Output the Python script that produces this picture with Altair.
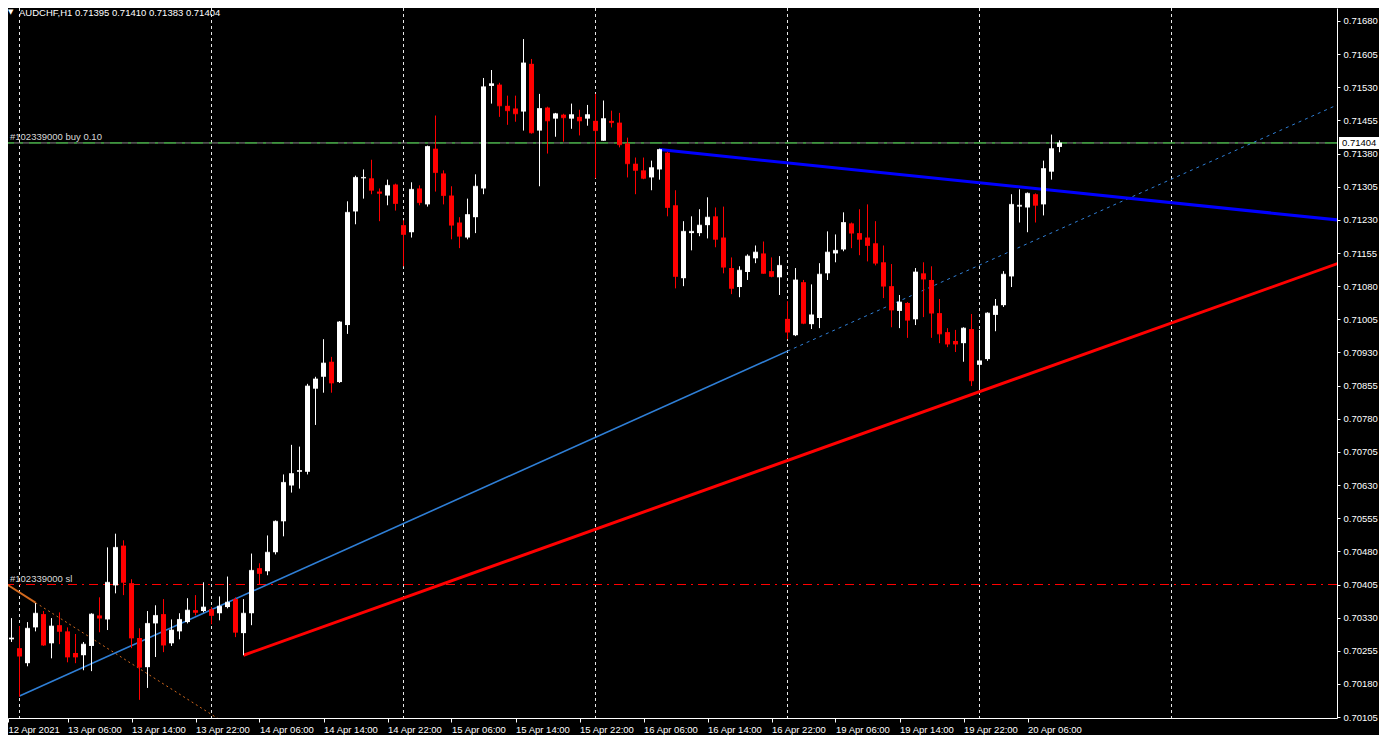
import altair as alt
import pandas as pd

# ---------------- data (AUDCHF H1) ----------------
opens = [0.70272, 0.70281, 0.70261, 0.70227, 0.70308, 0.70338, 0.70272, 0.70313, 0.70299, 0.70250,
         0.70245, 0.70266, 0.70335, 0.70326, 0.70403, 0.70493, 0.70408, 0.70284, 0.70218, 0.70317,
         0.70338, 0.70272, 0.70299, 0.70320, 0.70347, 0.70345, 0.70349, 0.70340, 0.70354, 0.70372,
         0.70295, 0.70340, 0.70442, 0.70435, 0.70478, 0.70548, 0.70629, 0.70660, 0.70660, 0.70848,
         0.70875, 0.70909, 0.70863, 0.70992, 0.71249, 0.71324, 0.71324, 0.71294, 0.71285, 0.71310,
         0.71218, 0.71202, 0.71301, 0.71265, 0.71391, 0.71335, 0.71285, 0.71224, 0.71190, 0.71236,
         0.71301, 0.71533, 0.71536, 0.71488, 0.71482, 0.71475, 0.71583, 0.71432, 0.71484, 0.71459,
         0.71468, 0.71459, 0.71463, 0.71459, 0.71454, 0.71409, 0.71454, 0.71450, 0.71403, 0.71357,
         0.71342, 0.71326, 0.71344, 0.71382, 0.71263, 0.71098, 0.71200, 0.71200, 0.71218, 0.71238,
         0.71190, 0.71121, 0.71078, 0.71112, 0.71143, 0.71154, 0.71114, 0.71100, 0.71006, 0.70969,
         0.71089, 0.70994, 0.71008, 0.71109, 0.71154, 0.71163, 0.71222, 0.71200, 0.71190, 0.71177,
         0.71134, 0.71080, 0.71024, 0.71042, 0.71005, 0.71109, 0.71094, 0.71019, 0.70976, 0.70956,
         0.70951, 0.70983, 0.70902, 0.70915, 0.71015, 0.71037, 0.71102, 0.71260, 0.71258, 0.71288,
         0.71265, 0.71339, 0.71395]
highs = [0.70315, 0.70329, 0.70311, 0.70320, 0.70363, 0.70345, 0.70329, 0.70342, 0.70308, 0.70293,
         0.70275, 0.70340, 0.70376, 0.70489, 0.70520, 0.70505, 0.70417, 0.70306, 0.70345, 0.70358,
         0.70372, 0.70326, 0.70340, 0.70374, 0.70381, 0.70410, 0.70354, 0.70378, 0.70423, 0.70376,
         0.70372, 0.70475, 0.70453, 0.70516, 0.70550, 0.70654, 0.70721, 0.70717, 0.70859, 0.70875,
         0.70960, 0.70920, 0.71001, 0.71272, 0.71330, 0.71344, 0.71366, 0.71301, 0.71321, 0.71312,
         0.71229, 0.71315, 0.71308, 0.71398, 0.71466, 0.71342, 0.71306, 0.71236, 0.71278, 0.71333,
         0.71551, 0.71569, 0.71540, 0.71511, 0.71511, 0.71639, 0.71594, 0.71515, 0.71486, 0.71472,
         0.71470, 0.71493, 0.71479, 0.71490, 0.71515, 0.71500, 0.71477, 0.71472, 0.71416, 0.71371,
         0.71371, 0.71364, 0.71391, 0.71384, 0.71297, 0.71227, 0.71238, 0.71254, 0.71281, 0.71258,
         0.71260, 0.71145, 0.71125, 0.71152, 0.71172, 0.71181, 0.71145, 0.71148, 0.71046, 0.71121,
         0.71094, 0.71084, 0.71132, 0.71204, 0.71197, 0.71247, 0.71224, 0.71254, 0.71265, 0.71227,
         0.71172, 0.71130, 0.71060, 0.71044, 0.71121, 0.71134, 0.71125, 0.71051, 0.70985, 0.70981,
         0.70987, 0.71017, 0.70981, 0.71021, 0.71051, 0.71114, 0.71288, 0.71299, 0.71292, 0.71290,
         0.71364, 0.71423, 0.71410]
lows = [0.70263, 0.70275, 0.70151, 0.70220, 0.70299, 0.70266, 0.70238, 0.70270, 0.70229, 0.70227,
        0.70211, 0.70209, 0.70297, 0.70302, 0.70385, 0.70381, 0.70261, 0.70144, 0.70171, 0.70241,
        0.70252, 0.70266, 0.70281, 0.70317, 0.70335, 0.70342, 0.70315, 0.70324, 0.70351, 0.70286,
        0.70245, 0.70313, 0.70405, 0.70426, 0.70473, 0.70514, 0.70613, 0.70622, 0.70654, 0.70766,
        0.70839, 0.70839, 0.70861, 0.70972, 0.71220, 0.71278, 0.71288, 0.71227, 0.71263, 0.71251,
        0.71125, 0.71190, 0.71263, 0.71260, 0.71294, 0.71265, 0.71186, 0.71166, 0.71186, 0.71200,
        0.71288, 0.71493, 0.71463, 0.71445, 0.71452, 0.71432, 0.71425, 0.71306, 0.71380, 0.71418,
        0.71407, 0.71436, 0.71421, 0.71443, 0.71324, 0.71409, 0.71439, 0.71394, 0.71326, 0.71288,
        0.71322, 0.71297, 0.71321, 0.71238, 0.71075, 0.71080, 0.71161, 0.71193, 0.71188, 0.71168,
        0.71109, 0.71062, 0.71055, 0.71094, 0.71132, 0.71108, 0.71100, 0.71060, 0.70960, 0.70967,
        0.70994, 0.70983, 0.70985, 0.71094, 0.71134, 0.71159, 0.71166, 0.71150, 0.71136, 0.71127,
        0.71053, 0.70987, 0.70985, 0.70963, 0.70992, 0.71010, 0.70963, 0.70951, 0.70942, 0.70931,
        0.70909, 0.70854, 0.70845, 0.70911, 0.70978, 0.71033, 0.71078, 0.71224, 0.71202, 0.71224,
        0.71240, 0.71321, 0.71383]
closes = [0.70290, 0.70284, 0.70243, 0.70306, 0.70340, 0.70268, 0.70311, 0.70299, 0.70241, 0.70241,
          0.70270, 0.70338, 0.70329, 0.70410, 0.70489, 0.70410, 0.70284, 0.70218, 0.70317, 0.70335,
          0.70268, 0.70302, 0.70326, 0.70347, 0.70342, 0.70354, 0.70335, 0.70356, 0.70365, 0.70297,
          0.70340, 0.70437, 0.70430, 0.70478, 0.70548, 0.70636, 0.70656, 0.70663, 0.70854, 0.70870,
          0.70906, 0.70861, 0.70999, 0.71247, 0.71326, 0.71326, 0.71297, 0.71290, 0.71308, 0.71267,
          0.71197, 0.71299, 0.71269, 0.71396, 0.71337, 0.71285, 0.71218, 0.71193, 0.71242, 0.71306,
          0.71531, 0.71538, 0.71488, 0.71477, 0.71470, 0.71585, 0.71427, 0.71482, 0.71454, 0.71470,
          0.71461, 0.71468, 0.71454, 0.71468, 0.71432, 0.71459, 0.71450, 0.71400, 0.71357, 0.71342,
          0.71324, 0.71348, 0.71389, 0.71258, 0.71102, 0.71204, 0.71204, 0.71218, 0.71236, 0.71186,
          0.71123, 0.71075, 0.71116, 0.71148, 0.71157, 0.71109, 0.71102, 0.71127, 0.70976, 0.71094,
          0.70996, 0.71015, 0.71107, 0.71157, 0.71161, 0.71224, 0.71200, 0.71186, 0.71172, 0.71132,
          0.71080, 0.71026, 0.71044, 0.71003, 0.71112, 0.71096, 0.71019, 0.70972, 0.70949, 0.70949,
          0.70985, 0.70866, 0.70911, 0.71019, 0.71035, 0.71107, 0.71265, 0.71263, 0.71290, 0.71263,
          0.71346, 0.71391, 0.71404]

# hourly bar number (0 = 12 Apr 22:00, weekend gap collapsed as on the terminal)
bar_no = list(range(len(opens)))

time_labels = ["12 Apr 2021", "13 Apr 06:00", "13 Apr 14:00", "13 Apr 22:00", "14 Apr 06:00",
               "14 Apr 14:00", "14 Apr 22:00", "15 Apr 06:00", "15 Apr 14:00", "15 Apr 22:00",
               "16 Apr 06:00", "16 Apr 14:00", "16 Apr 22:00", "19 Apr 06:00", "19 Apr 14:00",
               "19 Apr 22:00", "20 Apr 06:00"]
label_bars = [0.5625, 8, 16, 24, 32, 40, 48, 56, 64, 72, 80, 88, 96, 104, 112, 120, 128]
midnight_bars = [2, 26, 50, 74, 98, 122, 146]
price_ticks = [0.71680, 0.71605, 0.71530, 0.71455, 0.71380, 0.71305, 0.71230, 0.71155,
               0.71080, 0.71005, 0.70930, 0.70855, 0.70780, 0.70705, 0.70630, 0.70555,
               0.70480, 0.70405, 0.70330, 0.70255, 0.70180, 0.70105]

buy_price = 0.71404
sl_price = 0.70405
header = "AUDCHF,H1  0.71395 0.71410 0.71383 0.71404"

# trend line anchors (bar number, price)
lt_blue_bars = [2, 98];            lt_blue_prices = [0.70153, 0.70933]
lt_blue_ray_bars = [98, 167.2];    lt_blue_ray_prices = [0.70933, 0.71494]
red_bars = [30, 167.2];            red_prices = [0.70245, 0.71134]
blue_bars = [82, 167.2];           blue_prices = [0.71389, 0.71229]
orange_bars = [0, 4];              orange_prices = [0.70410, 0.70364]
orange_ray_bars = [4, 28];         orange_ray_prices = [0.70364, 0.70088]

# ---------------- chart ----------------
FONT = "Liberation Sans"
W, H = 1329, 710
xscale = alt.Scale(domain=[0.5625, 166.6875], nice=False, zero=False, padding=0)
yscale = alt.Scale(domain=[0.70103, 0.717093], nice=False, zero=False, padding=0)

label_expr = "[" + ",".join(f"'{t}'" for t in time_labels) + "][round(datum.value/8)]"
xaxis = alt.Axis(values=label_bars, labelExpr=label_expr, orient="bottom", grid=False, title=None,
                 labelAlign="left", labelBaseline="top", labelPadding=2, tickSize=4,
                 labelFont=FONT, labelFontSize=9.5, labelColor="#ffffff",
                 domainColor="#ffffff", tickColor="#ffffff", labelOverlap=False,
                 labelFlush=False, labelBound=False)
yaxis = alt.Axis(values=price_ticks, format=".5f", orient="right", grid=False, title=None,
                 tickSize=3, labelPadding=3, labelFont=FONT, labelFontSize=9.5,
                 labelColor="#ffffff", domainColor="#ffffff", tickColor="#ffffff",
                 labelOverlap=False, labelFlush=False, labelBound=False)

df = pd.DataFrame({"bar": bar_no, "open": opens, "high": highs, "low": lows, "close": closes})
df["dir"] = ["up" if c >= o else "down" for o, c in zip(opens, closes)]
color = alt.Color("dir:N", scale=alt.Scale(domain=["up", "down"], range=["#ffffff", "#ff0000"]), legend=None)


def X(f="bar"):
    return alt.X(f"{f}:Q", scale=xscale, axis=xaxis, title=None)


def Y(f):
    return alt.Y(f"{f}:Q", scale=yscale, axis=yaxis, title=None)


grid = alt.Chart(pd.DataFrame({"bar": midnight_bars})).mark_rule(
    color="#e8e8e8", strokeWidth=1, strokeDash=[3, 3], clip=True).encode(x=X())

lv = pd.DataFrame({"price": [buy_price]})
buy_gray = alt.Chart(lv).mark_rule(color="#8a8a8a", strokeWidth=1).encode(y=Y("price"))
buy_green = alt.Chart(lv).mark_rule(color="#32cd32", strokeWidth=1, strokeDash=[12, 6, 3, 6]).encode(y=Y("price"))
sl = alt.Chart(pd.DataFrame({"price": [sl_price]})).mark_rule(
    color="#ff0000", strokeWidth=1, strokeDash=[9, 5, 2, 5]).encode(y=Y("price"))


def seg(bars, prices, col, width, dash=None):
    d = pd.DataFrame({"bar": bars, "price": prices})
    kw = dict(color=col, strokeWidth=width, clip=True)
    if dash:
        kw["strokeDash"] = dash
    return alt.Chart(d).mark_line(**kw).encode(x=X(), y=Y("price"))


lines = [
    seg(orange_ray_bars, orange_ray_prices, "#d2691e", 1, [2, 3]),
    seg(orange_bars, orange_prices, "#d2691e", 2),
    seg(lt_blue_ray_bars, lt_blue_ray_prices, "#2f7fd6", 1, [3, 4]),
    seg(lt_blue_bars, lt_blue_prices, "#2f7fd6", 1.6),
    seg(red_bars, red_prices, "#ff0000", 3),
    seg(blue_bars, blue_prices, "#0000ff", 3),
]

wicks = alt.Chart(df).mark_rule(strokeWidth=1).encode(x=X(), y=Y("low"), y2="high:Q", color=color)
bodies = alt.Chart(df).mark_bar(size=5).encode(x=X(), y=Y("open"), y2="close:Q", color=color)
thin = alt.Chart(df).mark_tick(orient="horizontal", size=5, thickness=1).encode(x=X(), y=Y("close"), color=color)

txt = dict(font=FONT, fontSize=9.5, align="left", baseline="middle")
head_tri = alt.Chart(pd.DataFrame({"t": ["\u25bc"]})).mark_text(color="#ffffff", font="DejaVu Sans", fontSize=7,
                                                              align="left", baseline="middle").encode(
    text="t:N", x=alt.value(0), y=alt.value(4))
head = alt.Chart(pd.DataFrame({"t": [header]})).mark_text(color="#ffffff", **txt).encode(
    text="t:N", x=alt.value(11), y=alt.value(5))
buy_txt = alt.Chart(pd.DataFrame({"price": [buy_price], "t": ["#102339000 buy 0.10"]})).mark_text(
    color="#d8d8d8", dy=-6, **txt).encode(text="t:N", x=alt.value(2), y=Y("price"))
sl_txt = alt.Chart(pd.DataFrame({"price": [sl_price], "t": ["#102339000 sl"]})).mark_text(
    color="#d8d8d8", dy=-6, **txt).encode(text="t:N", x=alt.value(2), y=Y("price"))

tag_df = pd.DataFrame({"price": [buy_price], "t": ["0.71404"]})
tag_box = alt.Chart(tag_df).mark_point(shape="M-1,-0.3L1,-0.3L1,0.3L-1,0.3Z", size=1600, filled=True,
                                       color="#ffffff", opacity=1, strokeWidth=0).encode(
    x=alt.value(1351), y=Y("price"))
tag_txt = alt.Chart(tag_df).mark_text(color="#000000", **txt).encode(text="t:N", x=alt.value(1334), y=Y("price"))

chart = alt.layer(
    grid, buy_gray, buy_green, sl, *lines, wicks, bodies, thin,
    head_tri, head, buy_txt, sl_txt, tag_box, tag_txt
).properties(
    width=W, height=H,
    padding={"left": 0, "top": 0, "right": 42, "bottom": 17},
    autosize=alt.AutoSizeParams(type="none"),
    background="#000000",
).configure_view(stroke=None)

chart.save("out.html", embed_options={"renderer": "svg", "actions": False})
